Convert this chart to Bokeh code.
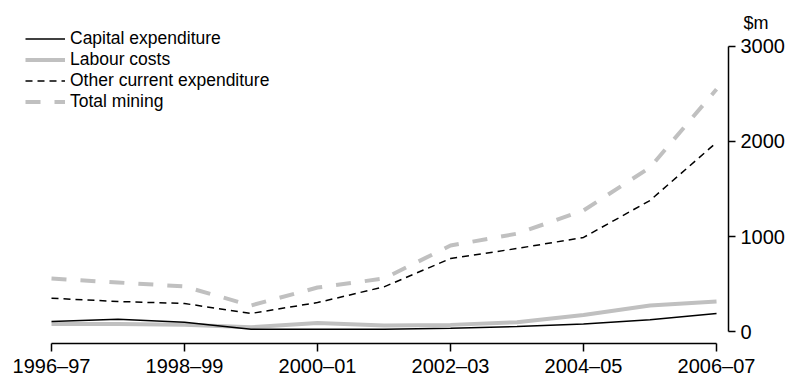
from bokeh.plotting import figure
from bokeh.models import FixedTicker, Range1d, Title, Legend, LegendItem
from bokeh.embed import file_html
from bokeh.resources import INLINE

years = ["1996–97", "1997–98", "1998–99", "1999–00", "2000–01", "2001–02",
         "2002–03", "2003–04", "2004–05", "2005–06", "2006–07"]
capital = [105, 130, 98, 25, 25, 25, 35, 52, 80, 123, 190]
labour = [80, 78, 72, 45, 91, 63, 70, 98, 175, 274, 316]
other = [350, 316, 295, 190, 305, 470, 768, 874, 990, 1379, 1990]
total = [558, 516, 474, 274, 463, 558, 905, 1030, 1274, 1726, 2550]
y_ticks = [0, 1000, 2000, 3000]
unit_label = "$m"

xs = list(range(len(years)))
FONT = "Liberation Sans"
GREY = "#c0c0c0"

p = figure(frame_width=703, frame_height=315, output_backend="svg", toolbar_location=None,
           x_range=Range1d(-0.391, 10.18), y_range=Range1d(-126, 3189),
           x_axis_location="below", y_axis_location="right",
           min_border=0, min_border_left=25, min_border_top=28,
           outline_line_color=None)
p.grid.visible = False

r_lab = p.line(xs, labour, line_color=GREY, line_width=4)
r_tot = p.line(xs, total, line_color=GREY, line_width=4, line_dash="15 14")
r_cap = p.line(xs, capital, line_color="black", line_width=1.5)
r_oth = p.line(xs, other, line_color="black", line_width=1.5, line_dash="7 5")

xa = p.xaxis[0]
xa.ticker = FixedTicker(ticks=xs[::2], minor_ticks=[])
xa.major_label_overrides = {i: years[i] for i in xs[::2]}
xa.bounds = (0, 10)
ya = p.yaxis[0]
ya.ticker = FixedTicker(ticks=y_ticks, minor_ticks=[])
ya.bounds = (0, 3000)
for ax in (xa, ya):
    ax.axis_line_width = 1.5
    ax.axis_line_color = "black"
    ax.major_tick_line_width = 1.5
    ax.major_tick_line_color = "black"
    ax.major_tick_in = 0
    ax.minor_tick_line_color = None
    ax.major_label_text_font = FONT
    ax.major_label_text_font_size = "20px"
    ax.major_label_text_color = "black"
xa.major_tick_out = 8
xa.major_label_standoff = 3
ya.major_tick_out = 7
ya.major_label_standoff = 5

p.add_layout(Title(text=unit_label, align="left", offset=718, standoff=-8,
                   text_font=FONT, text_font_size="18px", text_font_style="normal",
                   text_color="black"), "above")

legend = Legend(items=[
    LegendItem(label="Capital expenditure", renderers=[r_cap]),
    LegendItem(label="Labour costs", renderers=[r_lab]),
    LegendItem(label="Other current expenditure", renderers=[r_oth]),
    LegendItem(label="Total mining", renderers=[r_tot]),
], location="top_left")
legend.margin = 0
legend.padding = 0
legend.spacing = 0
legend.glyph_width = 40
legend.glyph_height = 21
legend.label_height = 21
legend.label_standoff = 5
legend.label_text_font = FONT
legend.label_text_font_size = "17.5px"
legend.label_text_color = "black"
legend.border_line_alpha = 0
legend.background_fill_alpha = 0
p.add_layout(legend)

open("out.html", "w").write(file_html(p, INLINE))
